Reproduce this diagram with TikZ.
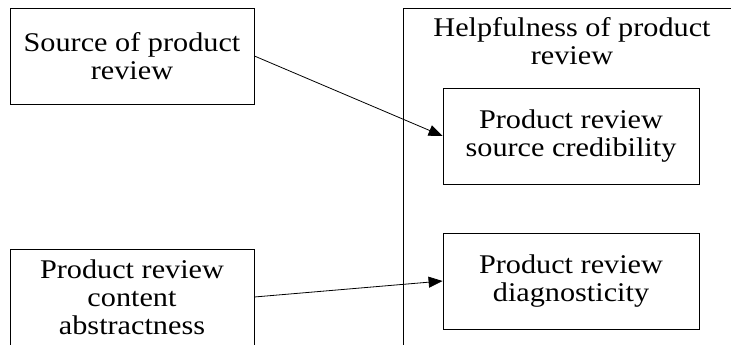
\documentclass[tikz,border=0pt]{standalone}
\usepackage{fontspec}
\newfontfamily\timesfont{Liberation Serif}[FakeStretch=1.12]
\usetikzlibrary{arrows.meta,positioning}

\begin{document}
\begin{tikzpicture}[->,>={Triangle[length=14pt,width=11pt]},x=1pt,y=1pt,
  line width=0.8pt,
  label text/.style={align=center,font=\timesfont\fontsize{27}{28}\selectfont},
  box/.style={draw,rectangle,label text,inner sep=0pt}]
  \useasboundingbox (0,0) rectangle (731,345);
  \clip (0,0) rectangle (731,345);

  % outer frame, runs off the right and bottom
  \draw[-] (403,-20) -- (403,337) -- (760,337);
  \node [label text] (help) at (572,304) {Helpfulness of product\\review};

  \node [box,minimum width=244,minimum height=96] (source) at (132,289) {Source of product\\review};
  \node [box,minimum width=244,minimum height=96] (abstract) at (132,48) {Product review\\content\\abstractness};
  \node [box,minimum width=256,minimum height=96] (cred) at (571,209) {Product review\\source credibility};
  \node [box,minimum width=256,minimum height=96] (diag) at (571,64) {Product review\\diagnosticity};

  \path[->] (source.east) edge (cred.west)
            (abstract.east) edge (diag.west);
\end{tikzpicture}
\end{document}
